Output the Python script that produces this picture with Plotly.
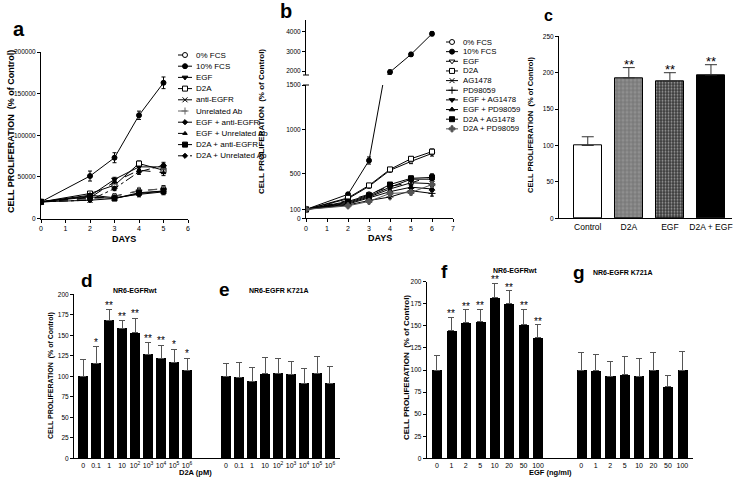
import plotly.graph_objects as go

W, H = 739, 478
FONT = "Liberation Sans, Arial, sans-serif"

def fx(px):
    return px / W

def fy(py):
    return 1 - py / H

# ---------------- Panel a data ----------------
days_a = [0, 2, 3, 4, 5]
names_a = ["0% FCS", "10% FCS", "EGF", "D2A", "anti-EGFR", "Unrelated Ab",
           "EGF + anti-EGFR", "EGF + Unrelated Ab", "D2A + anti-EGFR", "D2A + Unrelated Ab"]
a_fcs0 = [20000, 24000, 27000, 33000, 36000]
a_fcs10 = [20000, 51000, 73000, 124000, 163000]
a_egf = [20000, 27000, 47000, 62000, 62000]
a_d2a = [20000, 30000, 40000, 66000, 58000]
a_anti = [20000, 22000, 24000, 30000, 33000]
a_unrel = [20000, 23000, 26000, 34000, 35000]
a_egf_anti = [20000, 28000, 25000, 29000, 32000]
a_egf_unrel = [20000, 25000, 44000, 58000, 55000]
a_d2a_anti = [20000, 26000, 24000, 31000, 33000]
a_d2a_unrel = [20000, 22000, 36000, 56000, 64000]
a_err_fcs10 = [0, 6000, 6000, 5000, 7000]
a_err_other = [0, 2000, 2500, 3000, 3500]

# ---------------- Panel b data ----------------
days_b = [0, 2, 3, 4, 5, 6]
names_b = ["0% FCS", "10% FCS", "EGF", "D2A", "AG1478", "PD98059",
           "EGF + AG1478", "EGF + PD98059", "D2A + AG1478", "D2A + PD98059"]
b_fcs0 = [100, 200, 270, 360, 400, 470]
b_fcs10 = [100, 270, 650, 1950, 2850, 3900]
b_egf = [100, 220, 360, 540, 640, 730]
b_d2a = [100, 230, 370, 550, 670, 750]
b_ag = [100, 170, 240, 330, 400, 390]
b_pd = [100, 150, 200, 240, 310, 280]
b_egf_ag = [100, 180, 250, 350, 440, 440]
b_egf_pd = [100, 160, 230, 300, 350, 330]
b_d2a_ag = [100, 190, 260, 380, 450, 460]
b_d2a_pd = [100, 140, 190, 280, 290, 380]
b_err_fcs10 = [0, 20, 40, 100, 100, 100]
b_err_other = [0, 15, 20, 20, 25, 30]

# ---------------- Panel c data ----------------
c_cats = ["Control", "D2A", "EGF", "D2A + EGF"]
c_vals = [100, 193, 188, 197]
c_err = [12, 14, 12, 14]
c_sig = ["", "**", "**", "**"]

# ---------------- Panel d / e data ----------------
de_labels = ["0", "0.1", "1", "10", "10<sup>2</sup>", "10<sup>3</sup>",
             "10<sup>4</sup>", "10<sup>5</sup>", "10<sup>6</sup>"]
d_vals = [100, 116, 168, 158, 153, 127, 122, 117, 107]
d_err = [20, 20, 13, 10, 18, 14, 16, 16, 15]
d_sig = ["", "*", "**", "**", "**", "**", "**", "*", "*"]
e_vals = [100, 99, 94, 103, 104, 102, 91, 104, 91]
e_err = [16, 18, 17, 20, 18, 16, 19, 20, 21]

# ---------------- Panel f / g data ----------------
fg_labels = ["0", "1", "2", "5", "10", "20", "50", "100"]
f_vals = [100, 145, 154, 155, 182, 175, 151, 137]
f_err = [16, 15, 14, 14, 16, 15, 18, 14]
f_sig = ["", "**", "**", "**", "**", "**", "**", "**"]
g_vals = [100, 99, 93, 95, 93, 100, 81, 100]
g_err = [20, 19, 17, 20, 20, 20, 13, 21]

fig = go.Figure()

# styles for line panels
syms_a = ["circle", "circle", "triangle-down", "square", "x-thin-open", "cross-thin-open",
          "diamond", "triangle-up", "square", "diamond"]
fills_a = ["white", "black", "black", "white", "black", "#666", "black", "black", "black", "black"]
dash_a = ["dash", "solid", "solid", "solid", "solid", "dash", "solid", "dash", "solid", "dashdot"]
cols_a = ["black", "black", "black", "black", "black", "#666", "black", "black", "black", "black"]
sizes_a = [5, 5, 5, 5, 5, 5, 4, 4, 5, 4]

syms_b = ["circle", "circle", "triangle-down", "square", "x-thin-open", "cross-thin-open",
          "triangle-down", "triangle-up", "square", "cross"]
fills_b = ["white", "black", "white", "white", "black", "black", "black", "black", "black", "#555"]
dash_b = ["dash", "solid", "solid", "solid", "solid", "solid", "solid", "solid", "solid", "solid"]
cols_b = ["black"] * 9 + ["#555"]
sizes_b = [5, 5, 5, 5, 5, 5, 5, 5, 5, 5]

series_a = [a_fcs0, a_fcs10, a_egf, a_d2a, a_anti, a_unrel, a_egf_anti, a_egf_unrel, a_d2a_anti, a_d2a_unrel]
series_b = [b_fcs0, b_fcs10, b_egf, b_d2a, b_ag, b_pd, b_egf_ag, b_egf_pd, b_d2a_ag, b_d2a_pd]

def mk(sym, fill, col, size):
    return dict(symbol=sym, size=size, color=fill if "open" not in sym else col,
                line=dict(color=col, width=1))

for i, ys in enumerate(series_a):
    err = a_err_fcs10 if names_a[i] == "10% FCS" else a_err_other
    fig.add_trace(go.Scatter(
        x=days_a, y=ys, mode="lines+markers", name=names_a[i],
        line=dict(color=cols_a[i], width=1, dash=dash_a[i]),
        marker=mk(syms_a[i], fills_a[i], cols_a[i], sizes_a[i]),
        error_y=dict(type="data", array=err, color=cols_a[i], thickness=1, width=2),
        xaxis="x", yaxis="y", showlegend=False))

for i, ys in enumerate(series_b):
    err = b_err_fcs10 if names_b[i] == "10% FCS" else b_err_other
    fig.add_trace(go.Scatter(
        x=days_b, y=ys, mode="lines+markers", name=names_b[i],
        line=dict(color=cols_b[i], width=1, dash=dash_b[i]),
        marker=mk(syms_b[i], fills_b[i], cols_b[i], sizes_b[i]),
        error_y=dict(type="data", array=err, color=cols_b[i], thickness=1, width=2),
        xaxis="x2", yaxis="y2", showlegend=False))
    if names_b[i] == "10% FCS":
        fig.add_trace(go.Scatter(
            x=days_b, y=ys, mode="lines+markers", name=names_b[i],
            line=dict(color=cols_b[i], width=1),
            marker=mk(syms_b[i], fills_b[i], cols_b[i], sizes_b[i]),
            error_y=dict(type="data", array=err, color=cols_b[i], thickness=1, width=2),
            xaxis="x2", yaxis="y3", showlegend=False))

# panel c bars
c_pos = list(range(len(c_cats)))
fig.add_trace(go.Bar(
    x=c_pos, y=c_vals, width=0.68,
    marker=dict(color=["white", "#8f8f8f", "#3a3a3a", "black"],
                line=dict(color="black", width=1),
                pattern=dict(shape=["", "+", ".", ""],
                             fgcolor=["black", "white", "#a0a0a0", "black"],
                             bgcolor=["white", "#8f8f8f", "#3a3a3a", "black"],
                             size=[6, 4, 3, 6], solidity=[0.2, 0.3, 0.35, 0.2])),
    error_y=dict(type="data", array=c_err, arrayminus=[0] * 4, symmetric=False,
                 color="#333", thickness=1, width=6),
    xaxis="x3", yaxis="y4", showlegend=False))

# panel d/e bars
d_pos = list(range(len(d_vals)))
e_pos = [p + 11 for p in range(len(e_vals))]
for pos, vals, err in [(d_pos, d_vals, d_err), (e_pos, e_vals, e_err)]:
    fig.add_trace(go.Bar(
        x=pos, y=vals, width=0.82, marker=dict(color="black", line=dict(width=0)),
        error_y=dict(type="data", array=err, arrayminus=[0] * len(err), symmetric=False,
                     color="#555", thickness=1, width=3),
        xaxis="x4", yaxis="y5", showlegend=False))

# panel f/g bars
f_pos = list(range(len(f_vals)))
g_pos = [p + 10 for p in range(len(g_vals))]
for pos, vals, err in [(f_pos, f_vals, f_err), (g_pos, g_vals, g_err)]:
    fig.add_trace(go.Bar(
        x=pos, y=vals, width=0.7, marker=dict(color="black", line=dict(width=0)),
        error_y=dict(type="data", array=err, arrayminus=[0] * len(err), symmetric=False,
                     color="#555", thickness=1, width=3),
        xaxis="x5", yaxis="y6", showlegend=False))

ann = []

def star_anns(pos, vals, err, sig, xr, yr, size, ysh):
    for p, v, e, s in zip(pos, vals, err, sig):
        if s:
            ann.append(dict(x=p, y=v + e, xref=xr, yref=yr, text=s, showarrow=False,
                            yanchor="bottom", yshift=ysh, font=dict(size=size, color="black", family=FONT)))

star_anns(c_pos, c_vals, c_err, c_sig, "x3", "y4", 13, -6)
star_anns(d_pos, d_vals, d_err, d_sig, "x4", "y5", 10, -3)
star_anns(f_pos, f_vals, f_err, f_sig, "x5", "y6", 10, -4)

# manual legends on a pixel overlay axis
def add_legend(names, syms, fills, dashes, cols, sizes, x0, x1, xt, y0, dy, fs):
    for i, nm in enumerate(names):
        y = y0 + i * dy
        fig.add_trace(go.Scatter(x=[x0, x1], y=[y, y], mode="lines",
                                 line=dict(color=cols[i], width=1, dash=dashes[i]),
                                 xaxis="x6", yaxis="y7", showlegend=False, hoverinfo="skip"))
        fig.add_trace(go.Scatter(x=[(x0 + x1) / 2], y=[y], mode="markers",
                                 marker=mk(syms[i], fills[i], cols[i], sizes[i]),
                                 xaxis="x6", yaxis="y7", showlegend=False, hoverinfo="skip"))
        ann.append(dict(x=xt, y=y, xref="x6", yref="y7", text=nm, showarrow=False,
                        xanchor="left", yanchor="middle", font=dict(size=fs, color="black", family=FONT)))

add_legend(names_a, syms_a, fills_a, dash_a, cols_a, sizes_a, 178, 192, 194, 55, 11.2, 8)
add_legend(names_b, syms_b, fills_b, dash_b, cols_b, sizes_b, 446, 458, 461, 42, 9.65, 7.8)

# text annotations (paper positions)
def txt(x, y, t, size, bold=False, angle=0, xanchor="center"):
    ann.append(dict(x=fx(x), y=fy(y), xref="paper", yref="paper", text=f"<b>{t}</b>" if bold else t,
                    showarrow=False, textangle=angle, xanchor=xanchor, yanchor="middle",
                    font=dict(size=size, color="black", family=FONT)))

YT = "CELL PROLIFERATION  (% of Control)"
txt(11, 132, YT, 9, True, -90)
txt(262, 122, YT, 8, True, -90)
txt(530, 125, YT, 7.5, True, -90)
txt(51, 376, YT, 7, True, -90)
txt(406, 368, YT, 8, True, -90)
txt(124, 239, "DAYS", 9, True)
txt(380, 238, "DAYS", 9, True)
txt(195, 472, "D2A (pM)", 7.5, True)
txt(550, 472, "EGF (ng/ml)", 7.5, True)
txt(19, 29, "a", 20, True)
txt(286, 11, "b", 20, True)
txt(548, 16, "c", 16, True)
txt(87, 280, "d", 19, True)
txt(224, 289, "e", 19, True)
txt(444, 271, "f", 19, True)
txt(579, 272, "g", 19, True)
txt(135, 290, "NR6-EGFRwt", 7, True)
txt(279, 290, "NR6-EGFR K721A", 7, True)
txt(515, 270, "NR6-EGFRwt", 7, True)
txt(623, 272, "NR6-EGFR K721A", 7, True)

# axis-break caps on panel b's split y-axis
shapes = [
    dict(type="line", xref="paper", yref="paper", x0=fx(303), x1=fx(309), y0=fy(85), y1=fy(85),
         line=dict(color="black", width=1)),
    dict(type="line", xref="paper", yref="paper", x0=fx(303), x1=fx(309), y0=fy(75), y1=fy(75),
         line=dict(color="black", width=1)),
]

axbase = dict(showline=True, linecolor="black", linewidth=1, showgrid=False, zeroline=False,
              ticks="outside", ticklen=3, tickcolor="black", tickwidth=1, automargin=False,
              tickfont=dict(size=6.5, color="black", family=FONT))

def ax(**kw):
    d = dict(axbase)
    d.update(kw)
    return d

XTF = dict(size=7, color="black", family=FONT)

fig.update_layout(
    width=W, height=H, margin=dict(l=0, r=0, t=0, b=0, pad=0, autoexpand=False),
    paper_bgcolor="white", plot_bgcolor="rgba(0,0,0,0)",
    font=dict(family=FONT, color="black"),
    showlegend=False, bargap=0, hovermode=False,
    annotations=ann, shapes=shapes,
    xaxis=ax(domain=[fx(41), fx(188)], range=[0, 6], dtick=1, anchor="y", tickfont=XTF),
    yaxis=ax(domain=[fy(218.5), fy(52)], range=[0, 200000], tickvals=[0, 50000, 100000, 150000, 200000],
             tickformat="d", anchor="x"),
    xaxis2=ax(domain=[fx(306), fx(453)], range=[0, 7], dtick=1, anchor="y2", tickfont=XTF),
    yaxis2=ax(domain=[fy(218.3), fy(85)], range=[0, 1500], tickvals=[0, 100, 500, 1000, 1500], anchor="x2"),
    yaxis3=ax(domain=[fy(75), fy(20)], range=[1800, 4600], tickvals=[2000, 3000, 4000], anchor="x2"),
    xaxis3=ax(domain=[fx(559), fx(731.5)], range=[-0.7, 3.5], tickvals=c_pos, ticktext=c_cats,
              ticks="", tickfont=dict(size=8.5, color="black", family=FONT), anchor="y4"),
    yaxis4=ax(domain=[fy(218.3), fy(36.3)], range=[0, 250], dtick=50, anchor="x3"),
    xaxis4=ax(domain=[fx(74), fx(340)], range=[-0.7, 19.77], tickvals=d_pos + e_pos,
              ticktext=de_labels + de_labels, ticks="", anchor="y5", tickfont=XTF),
    yaxis5=ax(domain=[fy(458.3), fy(294.3)], range=[0, 200], dtick=25, anchor="x4"),
    xaxis5=ax(domain=[fx(426.7), fx(693.3)], range=[-0.71, 17.76], tickvals=f_pos + g_pos,
              ticktext=fg_labels + fg_labels, ticks="", anchor="y6", tickfont=XTF),
    yaxis6=ax(domain=[fy(458.3), fy(281.7)], range=[0, 200], dtick=25, anchor="x5"),
    xaxis6=dict(domain=[0, 1], range=[0, W], visible=False, fixedrange=True, anchor="y7", automargin=False),
    yaxis7=dict(domain=[0, 1], range=[H, 0], visible=False, fixedrange=True, anchor="x6", automargin=False),
)

fig.write_html("out.html", config={"displayModeBar": False},
               post_script="document.body.style.margin='0px';")
